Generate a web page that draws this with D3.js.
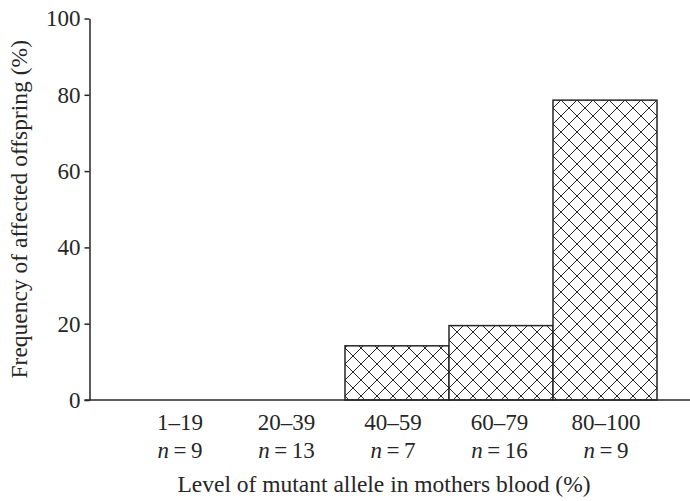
<!DOCTYPE html>
<html>
<head>
<meta charset="utf-8">
<script src="https://cdn.jsdelivr.net/npm/d3@7"></script>
<style>
  html, body { margin: 0; padding: 0; background: #fff; }
  svg { display: block; font-family: "Liberation Serif", "Times New Roman", serif; }
</style>
</head>
<body>
<svg id="chart" width="690" height="501"></svg>
<script>
// Maternal blood mutant-allele level groups
const categories = ["1–19", "20–39", "40–59", "60–79", "80–100"];
const groupSizes = [9, 13, 7, 16, 9];
// Frequency of affected offspring (%), 0 where no bar is drawn
const frequencies = [0, 0, 14.2, 19.5, 78.6];
const yTicks = [0, 20, 40, 60, 80, 100];

const ink = "#262626";
const svg = d3.select("#chart");

const x0 = 89.5, xEnd = 690;
const y = d3.scaleLinear().domain([0, 100]).range([400, 18.5]);
const xBars = d3.scaleBand().domain(categories).range([137, 657]).padding(0);
const xLabels = d3.scalePoint().domain(categories).range([180, 606]);

// Cross-hatch fill
const defs = svg.append("defs");
const pat = defs.append("pattern")
  .attr("id", "hatch")
  .attr("patternUnits", "userSpaceOnUse")
  .attr("width", 16).attr("height", 16)
  .attr("x", 1).attr("y", 4);
pat.append("rect").attr("width", 16).attr("height", 16).attr("fill", "#fff");
pat.append("path")
  .attr("d", "M0,0L16,16M16,0L0,16M-8,8L8,24M8,-8L24,8M-8,8L8,-8M8,24L24,8")
  .attr("stroke", ink).attr("stroke-width", 1).attr("fill", "none");

// Bars
svg.append("g").selectAll("rect")
  .data(categories.map((c, i) => ({ c, v: frequencies[i] })).filter(d => d.v > 0))
  .join("rect")
  .attr("x", d => xBars(d.c))
  .attr("y", d => y(d.v))
  .attr("width", xBars.bandwidth())
  .attr("height", d => y(0) - y(d.v))
  .attr("fill", "url(#hatch)")
  .attr("stroke", ink)
  .attr("stroke-width", 1.5);

// Y axis
const yAxis = svg.append("g")
  .attr("transform", `translate(${x0},0)`)
  .call(d3.axisLeft(y).tickValues(yTicks).tickSize(5).tickPadding(4).tickSizeOuter(0));
yAxis.select(".domain").attr("stroke", ink).attr("stroke-width", 1.5);
yAxis.selectAll(".tick line").attr("stroke", ink).attr("stroke-width", 1.5);
yAxis.selectAll(".tick text")
  .attr("fill", ink)
  .style("font-family", "Liberation Serif, serif")
  .style("font-size", "23px");

// X axis baseline
svg.append("line")
  .attr("x1", x0 - 5).attr("x2", xEnd)
  .attr("y1", y(0)).attr("y2", y(0))
  .attr("stroke", ink).attr("stroke-width", 1.5);

// Category labels
const lab = svg.append("g").attr("fill", ink).style("font-size", "23px").attr("text-anchor", "middle");
lab.selectAll("text.cat")
  .data(categories)
  .join("text")
  .attr("class", "cat")
  .attr("x", d => xLabels(d))
  .attr("y", 430)
  .text(d => d);

const nl = lab.selectAll("text.n")
  .data(categories.map((c, i) => ({ c, n: groupSizes[i] })))
  .join("text")
  .attr("class", "n")
  .attr("x", d => xLabels(d.c))
  .attr("y", 458);
nl.append("tspan").style("font-style", "italic").text("n");
nl.append("tspan").text(d => "\u2009=\u2009" + d.n);

// Axis titles
svg.append("text")
  .attr("x", 384).attr("y", 492)
  .attr("text-anchor", "middle")
  .attr("fill", ink)
  .style("font-size", "23.5px")
  .text("Level of mutant allele in mothers blood (%)");

svg.append("text")
  .attr("transform", `translate(27,${(y(0) + y(100)) / 2}) rotate(-90)`)
  .attr("text-anchor", "middle")
  .attr("fill", ink)
  .style("font-size", "23.5px")
  .text("Frequency of affected offspring (%)");
</script>
</body>
</html>
